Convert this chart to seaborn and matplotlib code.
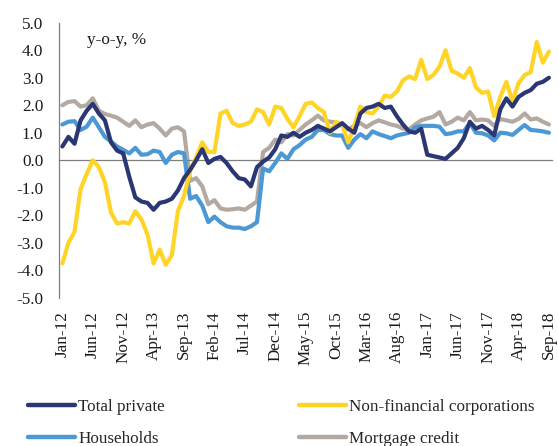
import matplotlib
matplotlib.use("Agg")
import matplotlib.pyplot as plt
from matplotlib.ticker import FormatStrFormatter
import numpy as np
import pandas as pd
import seaborn as sns

# monthly, Jan-12 .. Sep-18 (81 points), y-o-y %
months = pd.date_range("2012-01-01", "2018-09-01", freq="MS").strftime("%b-%y")

tick_labels = ["Jan-12", "Jun-12", "Nov-12", "Apr-13", "Sep-13", "Feb-14", "Jul-14",
               "Dec-14", "May-15", "Oct-15", "Mar-16", "Aug-16", "Jan-17", "Jun-17",
               "Nov-17", "Apr-18", "Sep-18"]

total_private = [0.5, 0.85, 0.6, 1.45, 1.8, 2.05, 1.7, 1.45, 0.65, 0.35,
                 0.25, -0.6, -1.35, -1.5, -1.55, -1.8, -1.55, -1.5, -1.4, -1.1,
                 -0.65, -0.35, 0.0, 0.4, -0.1, 0.05, 0.12, -0.1, -0.4, -0.65,
                 -0.7, -0.95, -0.25, -0.05, 0.1, 0.4, 0.9, 0.85, 1.0, 0.85,
                 1.0, 1.1, 1.25, 1.15, 1.05, 1.2, 1.35, 1.15, 1.0, 1.7,
                 1.9, 1.95, 2.05, 1.9, 1.95, 1.6, 1.3, 1.05, 1.0, 1.15,
                 0.2, 0.15, 0.1, 0.05, 0.25, 0.45, 0.8, 1.4, 1.15, 1.25,
                 1.1, 0.9, 1.85, 2.25, 1.95, 2.3, 2.45, 2.55, 2.78, 2.85,
                 3.0]

households = [1.3, 1.4, 1.42, 1.1, 1.22, 1.55, 1.2, 0.85, 0.68, 0.5,
              0.38, 0.25, 0.45, 0.2, 0.22, 0.35, 0.3, -0.1, 0.2, 0.3,
              0.25, -1.4, -1.3, -1.65, -2.25, -2.05, -2.25, -2.4, -2.45, -2.45,
              -2.5, -2.4, -2.25, -0.3, -0.4, -0.1, 0.25, 0.05, 0.4, 0.55,
              0.75, 0.85, 1.1, 1.1, 0.95, 0.9, 0.9, 0.45, 0.75, 0.95,
              0.8, 1.05, 0.95, 0.88, 0.8, 0.9, 0.95, 1.0, 1.2, 1.25,
              1.25, 1.25, 1.22, 0.95, 0.98, 1.05, 1.05, 1.35, 1.0, 0.98,
              0.9, 0.72, 1.0, 0.98, 0.92, 1.1, 1.28, 1.1, 1.08, 1.05,
              1.0]

non_fin_corp = [-3.75, -3.0, -2.6, -1.05, -0.5, 0.0, -0.25, -0.8, -1.9, -2.3,
                -2.25, -2.3, -1.85, -2.15, -2.7, -3.75, -3.25, -3.8, -3.45, -1.85,
                -1.3, -0.4, 0.1, 0.65, 0.3, 0.3, 1.7, 1.8, 1.35, 1.25,
                1.3, 1.4, 1.85, 1.75, 1.3, 1.95, 1.9, 1.5, 1.2, 1.6,
                2.05, 2.1, 1.9, 1.75, 1.0, 1.4, 1.3, 0.65, 1.25, 1.95,
                1.75, 1.7, 1.95, 2.35, 2.3, 2.5, 2.9, 3.05, 2.95, 3.65,
                2.95, 3.1, 3.4, 4.0, 3.25, 3.15, 3.0, 3.35, 2.65, 2.45,
                2.5, 1.6, 2.3, 2.85, 2.15, 2.8, 3.1, 3.2, 4.3, 3.55,
                3.95]

mortgage_credit = [2.0, 2.12, 2.15, 1.95, 2.0, 2.25, 1.8, 1.68, 1.62, 1.55,
                   1.4, 1.25, 1.45, 1.2, 1.3, 1.35, 1.15, 0.9, 1.15, 1.2,
                   1.05, -0.75, -0.65, -0.95, -1.6, -1.45, -1.75, -1.8, -1.78, -1.75,
                   -1.8, -1.65, -1.5, 0.3, 0.45, 0.75, 0.65, 0.95, 0.9, 1.1,
                   1.3, 1.45, 1.62, 1.45, 1.4, 1.38, 1.25, 1.12, 1.25, 1.35,
                   1.2, 1.35, 1.45, 1.38, 1.3, 1.25, 1.15, 1.12, 1.3, 1.45,
                   1.52, 1.58, 1.75, 1.3, 1.4, 1.55, 1.45, 1.75, 1.45, 1.48,
                   1.45, 1.25, 1.5, 1.45, 1.4, 1.5, 1.7, 1.48, 1.52, 1.4,
                   1.3]

series_names = ["Total private", "Households", "Non-financial corporations", "Mortgage credit"]
colors = ["#2B3674", "#4B98D5", "#FFD426", "#B3A9A1"]
zorders = [5, 3, 4, 2]

wide = pd.DataFrame({
    "month": months,
    "pos": np.arange(len(months)) + 0.5,   # categories sit between tick marks
    "Total private": total_private,
    "Households": households,
    "Non-financial corporations": non_fin_corp,
    "Mortgage credit": mortgage_credit,
})
df = wide.melt(id_vars=["month", "pos"], var_name="series", value_name="value")

sns.set_style("white")
plt.rcParams["font.family"] = ["Liberation Serif", "DejaVu Serif"]
fs = 12.3

fig = plt.figure(figsize=(5.58, 4.46), dpi=100)
ax = fig.add_axes([0.1063, 0.3323, 0.8829, 0.6168])

sns.lineplot(data=df, x="pos", y="value", hue="series", hue_order=series_names,
             palette=colors, linewidth=3, errorbar=None, sort=False, ax=ax)
for line, z in zip(ax.lines, zorders):
    line.set_zorder(z)
    line.set_solid_capstyle("round")
    line.set_solid_joinstyle("round")

leg = ax.get_legend()
handles = leg.legend_handles
labels = [t.get_text() for t in leg.get_texts()]
leg.remove()
for h in handles:
    h.set_linewidth(3.2)
    h.set_solid_capstyle("round")

ax.set_xlim(0, len(months))
ax.set_ylim(-5, 5)
ax.set_yticks(np.arange(-5, 6))
ax.yaxis.set_major_formatter(FormatStrFormatter("%.1f"))
ticks = np.arange(0, len(months), 5)
ax.set_xticks(ticks)
ax.set_xticks(ticks + 0.5, labels=tick_labels, minor=True)
ax.set_xlabel("")
ax.set_ylabel("")

ax.tick_params(axis="x", which="major", direction="in", length=4, width=0.8,
               color="#7f7f7f", labelbottom=False)
ax.tick_params(axis="x", which="minor", length=0, pad=108.5, labelrotation=90,
               labelsize=fs, labelcolor="#1a1a1a")
ax.tick_params(axis="y", direction="in", length=3.4, width=0.8, color="#7f7f7f",
               pad=11.5, labelsize=fs, labelcolor="#1a1a1a")

ax.spines["bottom"].set_position(("data", 0))
for side in ["bottom", "left"]:
    ax.spines[side].set_color("#7f7f7f")
    ax.spines[side].set_linewidth(0.9)
ax.spines["top"].set_visible(False)
ax.spines["right"].set_visible(False)

ax.text(0.056, 0.937, "y-o-y, %", transform=ax.transAxes, ha="left", va="center",
        fontsize=fs, color="#1a1a1a")

fig.legend(handles, labels, ncol=2, loc="upper left", bbox_to_anchor=(0.0507, 0.106),
           frameon=False, fontsize=fs, handlelength=2.73, handletextpad=0.2,
           columnspacing=7.85, labelspacing=0.95, borderpad=0, borderaxespad=0)

fig.savefig("out.png", dpi=100)
